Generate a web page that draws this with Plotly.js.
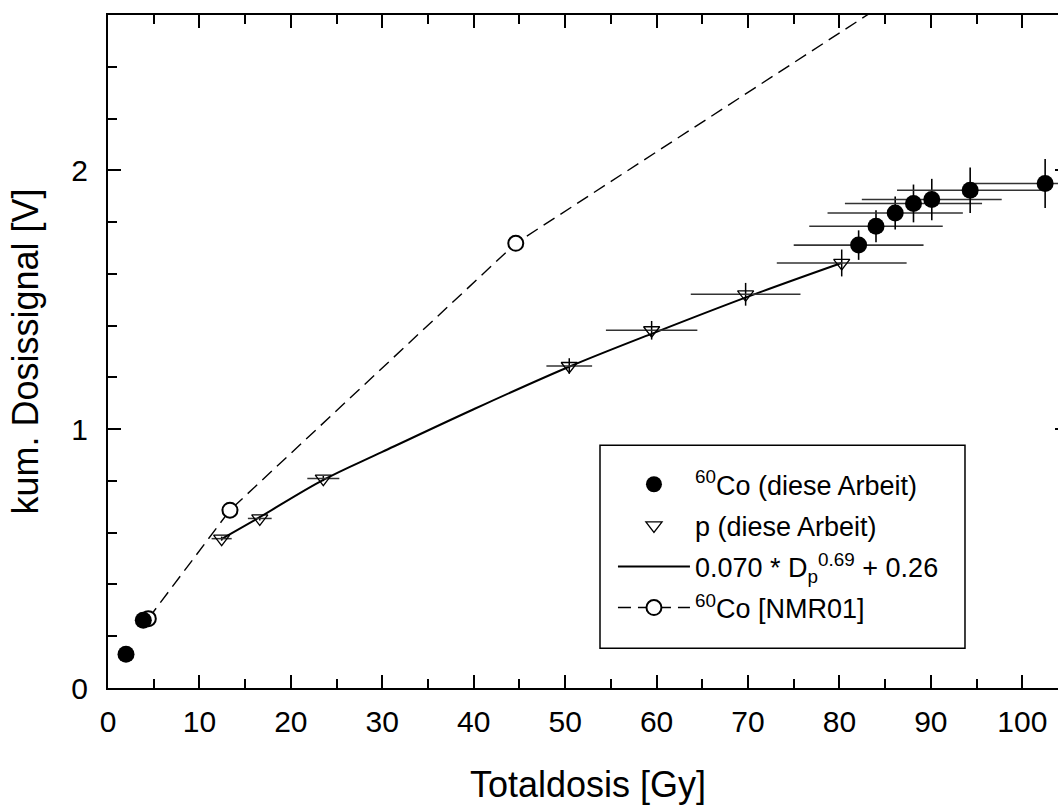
<!DOCTYPE html>
<html><head><meta charset="utf-8">
<script src="https://cdn.plot.ly/plotly-3.0.1.min.js"></script>
<style>html,body{margin:0;padding:0;overflow:hidden;background:#fff}</style>
</head><body><div id="chart" style="width:1090px;height:805px"></div>
<script>
// 60Co (diese Arbeit)
const co60X    = [1.97, 3.86, 82.1, 84.0, 86.1, 88.1, 90.1, 94.3, 102.5];
const co60Y    = [0.130, 0.262, 1.711, 1.784, 1.835, 1.872, 1.887, 1.923, 1.949];
const co60Xerr = [0, 0, 7.1, 7.3, 7.4, 7.5, 7.65, 8.0, 8.2];
const co60Yerr = [0, 0, 0.057, 0.062, 0.064, 0.073, 0.080, 0.088, 0.095];
// p (diese Arbeit)
const protonX    = [12.43, 16.6, 23.55, 50.45, 59.46, 69.74, 80.25];
const protonY    = [0.577, 0.655, 0.809, 1.244, 1.382, 1.521, 1.642];
const protonXerr = [1.1, 1.3, 1.75, 2.5, 5.0, 6.0, 7.1];
const protonYerr = [0.008, 0.008, 0.010, 0.030, 0.036, 0.044, 0.052];
// fit curve 0.070 * Dp^0.69 + 0.26
const fitX = [12.4, 16.6, 23.5, 30, 40, 50.5, 60, 70, 80.3];
const fitY = [0.575, 0.660, 0.803, 0.912, 1.077, 1.242, 1.376, 1.512, 1.643];
// 60Co [NMR01]
const nmrX = [4.41, 13.34, 44.6, 90];
const nmrY = [0.268, 0.687, 1.718, 2.76];

const FONT = 'Liberation Sans, Arial, sans-serif';

const traces = [
  {x: fitX, y: fitY, mode: 'lines', line: {color: '#000', width: 2, shape: 'spline'},
   name: '0.070 * D<sub>p</sub><sup>0.69</sup> + 0.26', legendrank: 3, legendgroup: 'c'},
  {x: nmrX, y: nmrY, mode: 'lines+markers', line: {color: '#000', width: 1.4, dash: '13px,7px'},
   marker: {symbol: 'circle', size: 15, color: '#fff', line: {color: '#000', width: 2}},
   name: '<sup>60</sup>Co [NMR01]', legendrank: 4, legendgroup: 'd'},
  {x: protonX, y: protonY, mode: 'markers',
   marker: {symbol: 'triangle-down-open', size: 14, color: '#000', line: {width: 1.3}},
   error_x: {type: 'data', array: protonXerr, color: '#333', thickness: 1.5, width: 0},
   error_y: {type: 'data', array: protonYerr, color: '#000', thickness: 1.5, width: 0},
   name: 'p (diese Arbeit)', legendrank: 2, legendgroup: 'b'},
  {x: co60X, y: co60Y, mode: 'markers',
   marker: {symbol: 'circle', size: 17, color: '#000'},
   error_x: {type: 'data', array: co60Xerr, color: '#333', thickness: 1.6, width: 0},
   error_y: {type: 'data', array: co60Yerr, color: '#000', thickness: 1.6, width: 0},
   name: '<sup>60</sup>Co (diese Arbeit)', legendrank: 1, legendgroup: 'a'}
];

const axisCommon = {
  showline: true, linecolor: '#000', linewidth: 2, mirror: 'allticks',
  ticks: 'inside', ticklen: 13, tickwidth: 2, tickcolor: '#000',
  showgrid: false, zeroline: false,
  tickfont: {family: FONT, size: 30, color: '#000'}
};

const layout = {
  width: 1090, height: 805,
  margin: {l: 108, r: 22, t: 15, b: 117},
  paper_bgcolor: '#fff', plot_bgcolor: '#fff',
  font: {family: FONT, color: '#000'},
  showlegend: true,
  xaxis: Object.assign({}, axisCommon, {
    range: [0, 105], tick0: 0, dtick: 10,
    minor: {dtick: 5, ticklen: 9, tickwidth: 2, ticks: 'inside', tickcolor: '#000'},
    ticklabelstandoff: 6,
    title: {text: 'Totaldosis [Gy]', font: {family: FONT, size: 36, color: '#000'}, standoff: 40}
  }),
  yaxis: Object.assign({}, axisCommon, {
    range: [0, 2.6], tick0: 0, dtick: 1,
    minor: {dtick: 0.2, ticklen: 9, tickwidth: 2, ticks: 'inside', tickcolor: '#000'},
    ticklabelstandoff: 12,
    title: {text: 'kum. Dosissignal [V]', font: {family: FONT, size: 36, color: '#000'}, standoff: 22}
  }),
  shapes: [{
    type: 'rect', xref: 'paper', yref: 'paper', layer: 'above',
    x0: 0.5125, x1: 0.8927, y0: 0.059, y1: 0.3608,
    line: {color: '#000', width: 1.5}, fillcolor: '#fff'
  }],
  legend: {
    x: 0.526, y: 0.3385, xanchor: 'left', yanchor: 'top',
    bgcolor: 'rgba(0,0,0,0)', borderwidth: 0,
    font: {family: FONT, size: 27, color: '#000'},
    itemwidth: 72, traceorder: 'grouped', tracegroupgap: 3
  }
};

Plotly.newPlot('chart', traces, layout, {displayModeBar: false, staticPlot: true});
</script></body></html>
